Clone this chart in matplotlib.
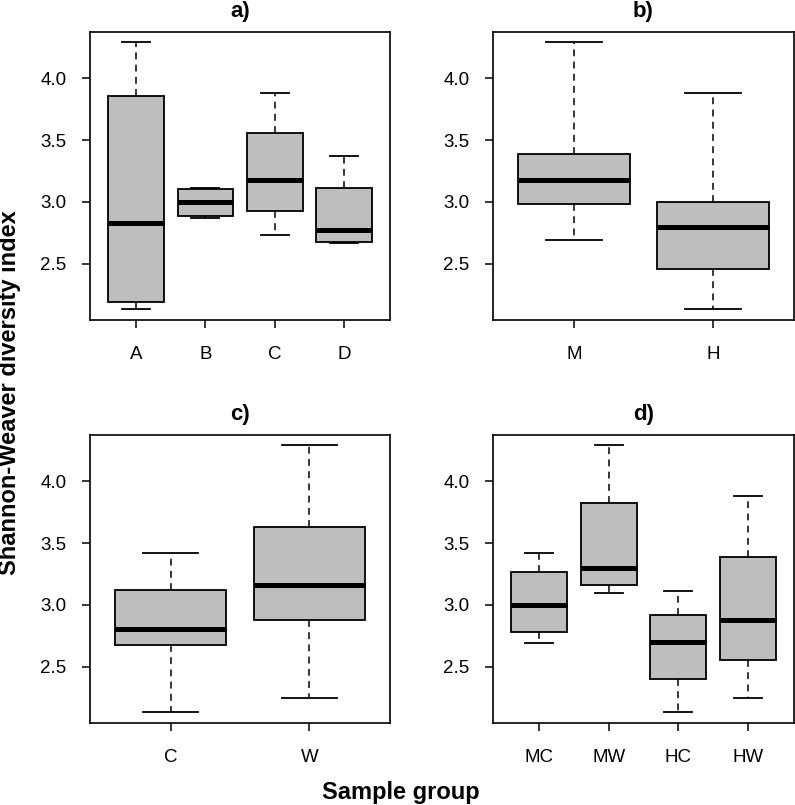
import matplotlib.pyplot as plt

plt.rcParams['font.family'] = ['Liberation Sans', 'DejaVu Sans']

# five-number summaries: low whisker, Q1, median, Q3, high whisker
labels_a = ['A', 'B', 'C', 'D']
whislo_a = [2.13, 2.873, 2.731, 2.666]
q1_a = [2.189, 2.884, 2.930, 2.676]
med_a = [2.833, 2.998, 3.178, 2.773]
q3_a = [3.855, 3.103, 3.556, 3.111]
whishi_a = [4.292, 3.111, 3.882, 3.372]

labels_b = ['M', 'H']
whislo_b = [2.690, 2.129]
q1_b = [2.986, 2.458]
med_b = [3.178, 2.795]
q3_b = [3.391, 3.003]
whishi_b = [4.292, 3.882]

labels_c = ['C', 'W']
whislo_c = [2.133, 2.249]
q1_c = [2.677, 2.879]
med_c = [2.803, 3.162]
q3_c = [3.118, 3.628]
whishi_c = [3.417, 4.293]

labels_d = ['MC', 'MW', 'HC', 'HW']
whislo_d = [2.688, 3.097, 2.133, 2.249]
q1_d = [2.782, 3.162, 2.399, 2.553]
med_d = [3.0, 3.296, 2.698, 2.879]
q3_d = [3.269, 3.827, 2.919, 3.388]
whishi_d = [3.417, 4.293, 3.110, 3.881]

yticks = [2.5, 3.0, 3.5, 4.0]
ylo, yhi = 2.13, 4.29

fig = plt.figure(figsize=(7.95, 8.05), dpi=100)
W, H = 795, 805


def add_axes(x0, y0, x1, y1):
    return fig.add_axes([x0 / W, 1 - y1 / H, (x1 - x0) / W, (y1 - y0) / H])


def draw_panel(ax, title, labels, lo, q1, med, q3, hi):
    stats = []
    for i in range(len(labels)):
        stats.append({'whislo': lo[i], 'q1': q1[i], 'med': med[i],
                      'q3': q3[i], 'whishi': hi[i], 'fliers': []})
    n = len(labels)
    ax.bxp(stats, positions=range(1, n + 1), widths=0.8, patch_artist=True,
           showfliers=False,
           boxprops=dict(facecolor='#bebebe', edgecolor='black', linewidth=1.3),
           medianprops=dict(color='black', linewidth=3.6, solid_capstyle='butt'),
           whiskerprops=dict(color='black', linewidth=1.1, linestyle=(0, (4.5, 3.5))),
           capprops=dict(color='black', linewidth=1.3))
    pad = 0.04 * n
    ax.set_xlim(0.5 - pad, n + 0.5 + pad)
    ext = 0.04 * (yhi - ylo)
    ax.set_ylim(ylo - ext, yhi + ext)
    ax.set_xticks(range(1, n + 1))
    ax.set_xticklabels(labels)
    ax.set_yticks(yticks)
    ax.set_yticklabels(['%.1f' % t for t in yticks])
    ax.tick_params(direction='out', length=6, width=1.1, labelsize=13.5)
    ax.tick_params(axis='x', pad=12.5)
    ax.tick_params(axis='y', pad=10.8)
    for s in ax.spines.values():
        s.set_linewidth(1.2)
    ax.set_title(title, fontsize=16, fontweight='bold', pad=11)


ax_a = add_axes(90, 32, 390, 320)
ax_b = add_axes(493, 32, 794, 320)
ax_c = add_axes(90, 435, 390, 723)
ax_d = add_axes(493, 435, 794, 723)

draw_panel(ax_a, 'a)', labels_a, whislo_a, q1_a, med_a, q3_a, whishi_a)
draw_panel(ax_b, 'b)', labels_b, whislo_b, q1_b, med_b, q3_b, whishi_b)
draw_panel(ax_c, 'c)', labels_c, whislo_c, q1_c, med_c, q3_c, whishi_c)
draw_panel(ax_d, 'd)', labels_d, whislo_d, q1_d, med_d, q3_d, whishi_d)

fig.text(10 / W, 1 - 393 / H, 'Shannon-Weaver diversity index', rotation=90,
         fontsize=17, fontweight='bold', ha='center', va='center')
fig.text(401 / W, 1 - 792 / H, 'Sample group', fontsize=17,
         fontweight='bold', ha='center', va='center')

fig.savefig('out.png', dpi=100)
